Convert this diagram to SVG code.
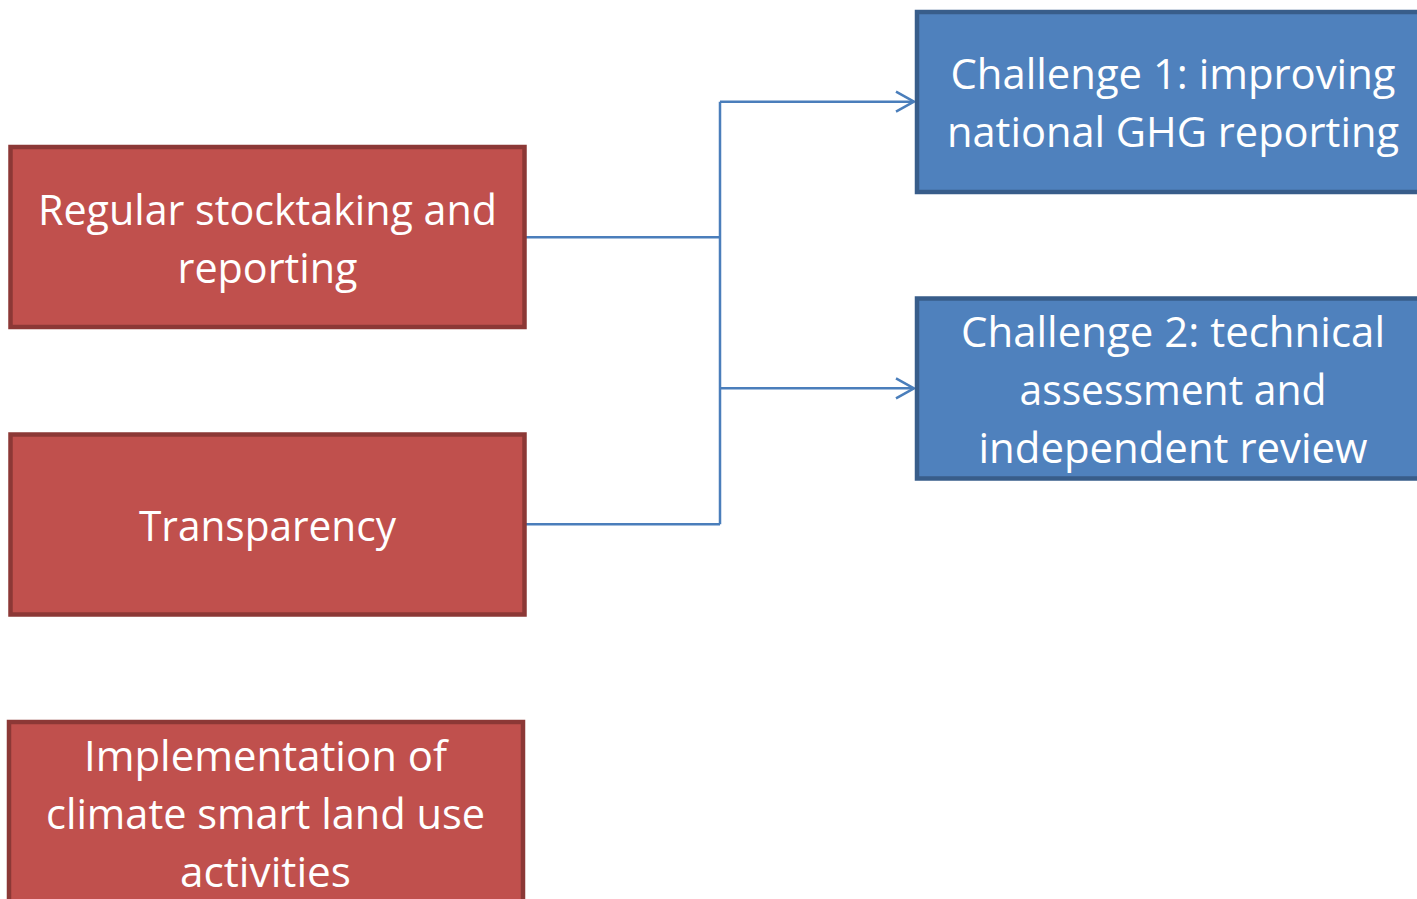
<svg xmlns="http://www.w3.org/2000/svg" width="1417" height="899" viewBox="0 0 1417 899">
  <style>
    .red { fill: #C0504D; stroke: #8C3836; stroke-width: 4.5; }
    .blue { fill: #4F81BD; stroke: #385D8A; stroke-width: 4.5; }
    .lbl { font-family: "Open Sans", "Noto Sans", sans-serif; font-size: 42px; fill: #FFFFFF; text-anchor: middle; }
    .link { fill: none; stroke: #4A7EBB; stroke-width: 2.5; }
  </style>
  <defs>
    <marker id="chev" viewBox="0 0 20 24" refX="19" refY="12" markerWidth="20" markerHeight="24" markerUnits="userSpaceOnUse" orient="auto">
      <path d="M1,2 L19,12 L1,22" fill="none" stroke="#4A7EBB" stroke-width="2.5"/>
    </marker>
  </defs>
  <rect width="1417" height="899" fill="#FFFFFF"/>

  <g id="connectors">
    <path class="link" d="M526,237.3 H720"/>
    <path class="link" d="M526,524.3 H720"/>
    <path class="link" d="M720,101.7 V524.3"/>
    <path class="link" d="M720,101.7 H914" marker-end="url(#chev)"/>
    <path class="link" d="M720,388.3 H914" marker-end="url(#chev)"/>
  </g>

  <g id="stocktaking">
    <rect class="red" x="10.5" y="147" width="514" height="180"/>
    <text class="lbl" x="267.5" y="225" textLength="459" lengthAdjust="spacingAndGlyphs">Regular stocktaking and</text>
    <text class="lbl" x="267.5" y="283" textLength="180" lengthAdjust="spacingAndGlyphs">reporting</text>
  </g>

  <g id="transparency">
    <rect class="red" x="10.5" y="434.5" width="514" height="180"/>
    <text class="lbl" x="267.5" y="541" textLength="257" lengthAdjust="spacingAndGlyphs">Transparency</text>
  </g>

  <g id="implementation">
    <rect class="red" x="9" y="722" width="514" height="180"/>
    <text class="lbl" x="265.5" y="771" textLength="363" lengthAdjust="spacingAndGlyphs">Implementation of</text>
    <text class="lbl" x="265.5" y="829" textLength="439" lengthAdjust="spacingAndGlyphs">climate smart land use</text>
    <text class="lbl" x="265.5" y="887" textLength="171" lengthAdjust="spacingAndGlyphs">activities</text>
  </g>

  <g id="challenge1">
    <rect class="blue" x="917" y="12" width="514" height="180"/>
    <text class="lbl" x="1173" y="89" textLength="445" lengthAdjust="spacingAndGlyphs">Challenge 1: improving</text>
    <text class="lbl" x="1173" y="147" textLength="452" lengthAdjust="spacingAndGlyphs">national GHG reporting</text>
  </g>

  <g id="challenge2">
    <rect class="blue" x="917" y="298.5" width="514" height="180"/>
    <text class="lbl" x="1173" y="347" textLength="424" lengthAdjust="spacingAndGlyphs">Challenge 2: technical</text>
    <text class="lbl" x="1173" y="405" textLength="307" lengthAdjust="spacingAndGlyphs">assessment and</text>
    <text class="lbl" x="1173" y="463" textLength="389" lengthAdjust="spacingAndGlyphs">independent review</text>
  </g>
</svg>
